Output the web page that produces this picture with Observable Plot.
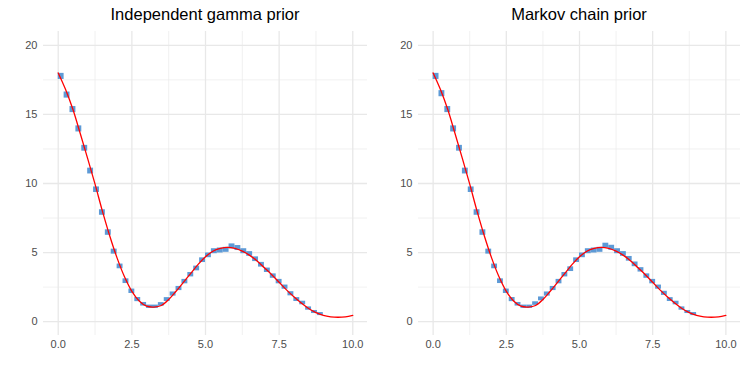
<!DOCTYPE html>
<html>
<head>
<meta charset="utf-8">
<script src="https://cdn.jsdelivr.net/npm/d3@7"></script>
<script src="https://cdn.jsdelivr.net/npm/@observablehq/plot@0.6"></script>
<style>
  html, body { margin: 0; padding: 0; background: #ffffff; }
  #wrap { position: relative; width: 747px; height: 374px; overflow: hidden; background: #ffffff; }
  .panel { position: absolute; top: 0; }
  .title { position: absolute; top: 6px; font-family: "Liberation Sans", Arial, sans-serif; font-size: 16.5px; line-height: 1; color: #000; text-align: center; white-space: nowrap; }
</style>
</head>
<body>
<div id="wrap"></div>
<script>
// Panel titles
const titles = ["Independent gamma prior", "Markov chain prior"];

// Axis ticks
const xTicks = [0, 2.5, 5, 7.5, 10];
const xMinor = [1.25, 3.75, 6.25, 8.75];
const yTicks = [0, 5, 10, 15, 20];
const yMinor = [2.5, 7.5, 12.5, 17.5];

// True intensity curve (red line)
const curveX = [0, 0.25, 0.5, 0.75, 1, 1.25, 1.5, 1.75, 2, 2.25, 2.5, 2.75, 3, 3.25, 3.5, 3.75, 4, 4.25, 4.5, 4.75, 5,
                5.25, 5.5, 5.75, 6, 6.25, 6.5, 6.75, 7, 7.25, 7.5, 7.75, 8, 8.25, 8.5, 8.75, 9, 9.25, 9.5, 9.75, 10];
const curveY = [18.0, 16.8, 15.35, 13.6, 11.8, 9.95, 8.0, 6.2, 4.6, 3.25, 2.2, 1.5, 1.12, 1.06, 1.17, 1.6, 2.2, 2.85, 3.5, 4.15, 4.7,
                5.1, 5.3, 5.38, 5.3, 5.1, 4.8, 4.4, 3.9, 3.4, 2.85, 2.3, 1.8, 1.35, 0.95, 0.65, 0.45, 0.35, 0.32, 0.35, 0.45];

// Bin edges of the estimated intensity
const binStart = [0, 0.2, 0.4, 0.6, 0.8, 1, 1.2, 1.4, 1.6, 1.8, 2, 2.2, 2.4, 2.6, 2.8, 3, 3.2, 3.4, 3.6, 3.8, 4, 4.2, 4.4,
                  4.6, 4.8, 5, 5.2, 5.4, 5.6, 5.8, 6, 6.2, 6.4, 6.6, 6.8, 7, 7.2, 7.4, 7.6, 7.8, 8, 8.2, 8.4, 8.6, 8.8];
const binEnd = [0.2, 0.4, 0.6, 0.8, 1, 1.2, 1.4, 1.6, 1.8, 2, 2.2, 2.4, 2.6, 2.8, 3, 3.2, 3.4, 3.6, 3.8, 4, 4.2, 4.4, 4.6,
                4.8, 5, 5.2, 5.4, 5.6, 5.8, 6, 6.2, 6.4, 6.6, 6.8, 7, 7.2, 7.4, 7.6, 7.8, 8, 8.2, 8.4, 8.6, 8.8, 9];

// Independent gamma prior: credible interval per bin
const gammaLower = [17.53, 16.18, 15.13, 13.73, 12.34, 10.69, 9.35, 7.70, 6.25, 4.89, 3.83, 2.76, 2.04, 1.45, 1.13, 0.96, 0.96,
                    1.12, 1.46, 1.85, 2.25, 2.74, 3.24, 3.68, 4.28, 4.63, 4.92, 4.97, 5.02, 5.27, 5.15, 4.92, 4.73, 4.35,
                    3.95, 3.56, 3.14, 2.74, 2.35, 1.87, 1.46, 1.22, 0.83, 0.59, 0.44];
const gammaUpper = [17.97, 16.62, 15.57, 14.17, 12.76, 11.11, 9.75, 8.10, 6.65, 5.25, 4.17, 3.10, 2.36, 1.75, 1.39, 1.20, 1.20,
                    1.38, 1.74, 2.15, 2.55, 3.06, 3.56, 4.02, 4.62, 4.97, 5.28, 5.33, 5.38, 5.63, 5.51, 5.28, 5.07, 4.69,
                    4.29, 3.88, 3.46, 3.06, 2.65, 2.17, 1.74, 1.48, 1.07, 0.81, 0.66];

// Markov chain prior: credible interval per bin
const markovLower = [17.53, 16.28, 15.13, 13.73, 12.34, 10.69, 9.35, 7.70, 6.25, 4.89, 3.83, 2.76, 2.04, 1.45, 1.13, 0.96, 0.96,
                     1.18, 1.51, 1.85, 2.25, 2.74, 3.24, 3.63, 4.28, 4.63, 4.92, 4.97, 5.02, 5.32, 5.17, 4.92, 4.73, 4.38,
                     3.98, 3.59, 3.14, 2.74, 2.35, 1.90, 1.46, 1.22, 0.83, 0.59, 0.44];
const markovUpper = [17.97, 16.72, 15.57, 14.17, 12.76, 11.11, 9.75, 8.10, 6.65, 5.25, 4.17, 3.10, 2.36, 1.75, 1.39, 1.20, 1.20,
                     1.44, 1.79, 2.15, 2.55, 3.06, 3.56, 3.97, 4.62, 4.97, 5.28, 5.33, 5.38, 5.68, 5.53, 5.28, 5.07, 4.72,
                     4.32, 3.91, 3.46, 3.06, 2.65, 2.20, 1.74, 1.48, 1.07, 0.81, 0.66];

const curve = curveX.map((x, i) => ({x, y: curveY[i]}));
const makeBoxes = (lo, hi) => binStart.map((s, i) => ({x1: s, x2: binEnd[i], y1: lo[i], y2: hi[i]}));

function panel(boxes, marginLeft, width) {
  return Plot.plot({
    width, height: 374,
    marginLeft, marginRight: 7, marginTop: 31, marginBottom: 39,
    x: {domain: [-0.5, 10.5], ticks: xTicks, tickFormat: d3.format(".1f"), tickSize: 0, tickPadding: 5, label: null},
    y: {domain: [-1, 21], ticks: yTicks, tickFormat: d3.format("d"), tickSize: 0, tickPadding: 6, label: null},
    style: {fontFamily: "'Liberation Sans', Arial, sans-serif", fontSize: "11px", color: "#4d4d4d", background: "#ffffff", overflow: "visible"},
    marks: [
      Plot.ruleX(xMinor, {stroke: "#ebebeb", strokeWidth: 0.7}),
      Plot.ruleY(yMinor, {stroke: "#ebebeb", strokeWidth: 0.7}),
      Plot.ruleX(xTicks, {stroke: "#e8e8e8", strokeWidth: 1.3}),
      Plot.ruleY(yTicks, {stroke: "#e8e8e8", strokeWidth: 1.3}),
      Plot.rect(boxes, {x1: "x1", x2: "x2", y1: "y1", y2: "y2", fill: "#4b8fd1", fillOpacity: 0.9}),
      Plot.line(curve, {x: "x", y: "y", stroke: "#ff0000", strokeWidth: 1.3, curve: "catmull-rom"})
    ]
  });
}

const wrap = document.getElementById("wrap");
const specs = [
  {boxes: makeBoxes(gammaLower, gammaUpper), left: 0, width: 374, marginLeft: 43},
  {boxes: makeBoxes(markovLower, markovUpper), left: 374, width: 373, marginLeft: 44}
];
specs.forEach((s, i) => {
  const chart = panel(s.boxes, s.marginLeft, s.width);
  chart.classList.add("panel");
  chart.style.left = s.left + "px";
  wrap.appendChild(chart);
  const t = document.createElement("div");
  t.className = "title";
  t.textContent = titles[i];
  const center = s.left + s.marginLeft + (s.width - s.marginLeft - 7) / 2;
  t.style.left = (center - 150) + "px";
  t.style.width = "300px";
  wrap.appendChild(t);
});
</script>
</body>
</html>
